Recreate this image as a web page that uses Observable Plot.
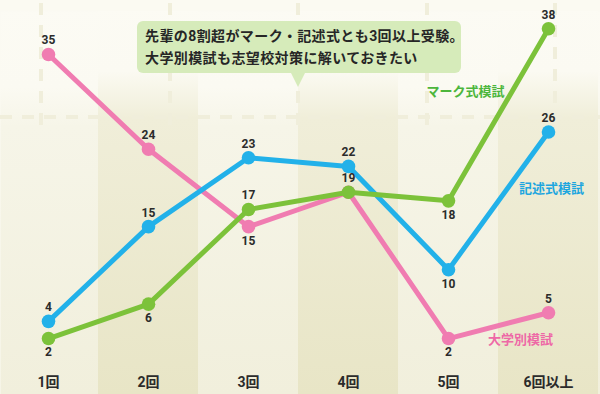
<!DOCTYPE html>
<html><head><meta charset="utf-8">
<script src="https://cdn.jsdelivr.net/npm/d3@7"></script>
<script src="https://cdn.jsdelivr.net/npm/@observablehq/plot@0.6"></script>
<style>
html,body{margin:0;padding:0;background:#fbfaf2;}
#wrap{position:relative;width:600px;height:394px;overflow:hidden;font-family:Roboto,"Noto Sans CJK JP",sans-serif;}
#wrap svg{display:block;}
#callout{position:absolute;left:137px;top:21px;width:324px;height:52px;background:#d6ebba;border-radius:6px;box-sizing:border-box;padding:5px 0 0 8px;font-size:14px;font-weight:bold;color:#262626;line-height:21.5px;letter-spacing:0.4px;white-space:nowrap;}
#callout::after{content:"";position:absolute;left:154px;top:100%;border-left:7px solid transparent;border-right:7px solid transparent;border-top:14px solid #d6ebba;}
</style>
</head><body>
<div id="wrap"></div>
<script>
const categories = ["1回","2回","3回","4回","5回","6回以上"];
const seriesNames = ["大学別模試","記述式模試","マーク式模試"];
const daigakuValues = [35,24,15,19,2,5];
const kijutsuValues = [4,15,23,22,10,26];
const markValues = [2,6,17,19,18,38];
// where each value label sits relative to its point
const daigakuLabelSide = ["above","above","below","none","below","above"];
const kijutsuLabelSide = ["above","above","above","above","below","above"];
const markLabelSide = ["below","below","above","above","below","above"];
const calloutLines = ["先輩の8割超がマーク・記述式とも3回以上受験。","大学別模試も志望校対策に解いておきたい"];

const seriesColors = ["#f07cb1","#22b1e9","#7cc23a"];
const labelColors = ["#ee68a6","#1ea6df","#4cb63c"];

const valuesBySeries = [daigakuValues, kijutsuValues, markValues];
const sidesBySeries = [daigakuLabelSide, kijutsuLabelSide, markLabelSide];
const rows = [];
seriesNames.forEach((s, si) => categories.forEach((c, i) => rows.push({series: s, cat: c, value: valuesBySeries[si][i], side: sidesBySeries[si][i]})));

const yDomain = [-4.5, 40];
const darkCats = categories.filter((d, i) => i % 2 === 1);

const marks = [
  Plot.frame({fill: "url(#gLight)", stroke: "none"}),
  Plot.barY(darkCats, {x: d => d, y1: yDomain[0], y2: yDomain[1], fill: "url(#gDark)"})
];
seriesNames.forEach((s, si) => {
  const data = rows.filter(r => r.series === s);
  marks.push(Plot.line(data, {x: "cat", y: "value", stroke: seriesColors[si], strokeWidth: 5, strokeLinejoin: "round", strokeLinecap: "round"}));
  marks.push(Plot.dot(data, {x: "cat", y: "value", r: 6.8, fill: seriesColors[si], stroke: "none"}));
});
marks.push(Plot.text(rows.filter(r => r.side === "above"), {x: "cat", y: "value", text: d => String(d.value), dy: -14, fontSize: 12, fontWeight: "bold", fill: "#2b2b2b"}));
marks.push(Plot.text(rows.filter(r => r.side === "below"), {x: "cat", y: "value", text: d => String(d.value), dy: 14, fontSize: 12, fontWeight: "bold", fill: "#2b2b2b"}));
// series name labels, anchored to each series' last point
const lastOf = s => rows.filter(r => r.series === s).slice(-1);
const nameOffsets = [[-28, 27], [3, 57], [-83, 63]];
seriesNames.forEach((s, si) => {
  marks.push(Plot.text(lastOf(s), {x: "cat", y: "value", text: d => d.series, dx: nameOffsets[si][0], dy: nameOffsets[si][1], fontSize: 13, fontWeight: "bold", fill: labelColors[si]}));
});
marks.push(Plot.axisX({anchor: "bottom", label: null, tickSize: 0, tickPadding: 3, dy: -20, fontSize: 14, fontWeight: "bold", fill: "#2b2b2b"}));

const svg = Plot.plot({
  width: 600, height: 394,
  marginTop: 11, marginBottom: 0, marginLeft: 0, marginRight: 0,
  x: {type: "band", domain: categories, range: [-2, 598], padding: 0, axis: null, label: null},
  y: {domain: yDomain, axis: null},
  style: {background: "#fbfaf2", fontFamily: 'Roboto,"Noto Sans CJK JP",sans-serif', overflow: "visible"},
  marks
});

const sel = d3.select(svg);
const defs = sel.insert("defs", ":first-child");
function grad(id, stops) {
  const g = defs.append("linearGradient").attr("id", id).attr("gradientUnits", "userSpaceOnUse")
    .attr("x1", 0).attr("y1", 0).attr("x2", 0).attr("y2", 394);
  stops.forEach(([o, c]) => g.append("stop").attr("offset", o).attr("stop-color", c));
}
grad("gLight", [[0, "#fcfbf4"], [0.22, "#fbfaf2"], [0.32, "#f6f5e8"], [1, "#f1efdc"]]);
grad("gDark", [[0, "#fcfbf4"], [0.18, "#fbfaf2"], [0.3, "#f0eed9"], [1, "#e8e5c6"]]);

// faint dashed background decoration
const deco = sel.insert("g", "g[aria-label='line']").attr("stroke", "#f0eedb").attr("stroke-width", 4).attr("stroke-dasharray", "12,10").attr("fill", "none");
[41, 170, 298, 427, 555].forEach(x => deco.append("line").attr("x1", x).attr("x2", x).attr("y1", 3).attr("y2", 135));
deco.append("line").attr("x1", 0).attr("x2", 600).attr("y1", 117).attr("y2", 117);

const wrap = document.getElementById("wrap");
wrap.appendChild(svg);
const callout = document.createElement("div");
callout.id = "callout";
calloutLines.forEach(t => { const d = document.createElement("div"); d.textContent = t; callout.appendChild(d); });
wrap.appendChild(callout);
</script>
</body></html>
